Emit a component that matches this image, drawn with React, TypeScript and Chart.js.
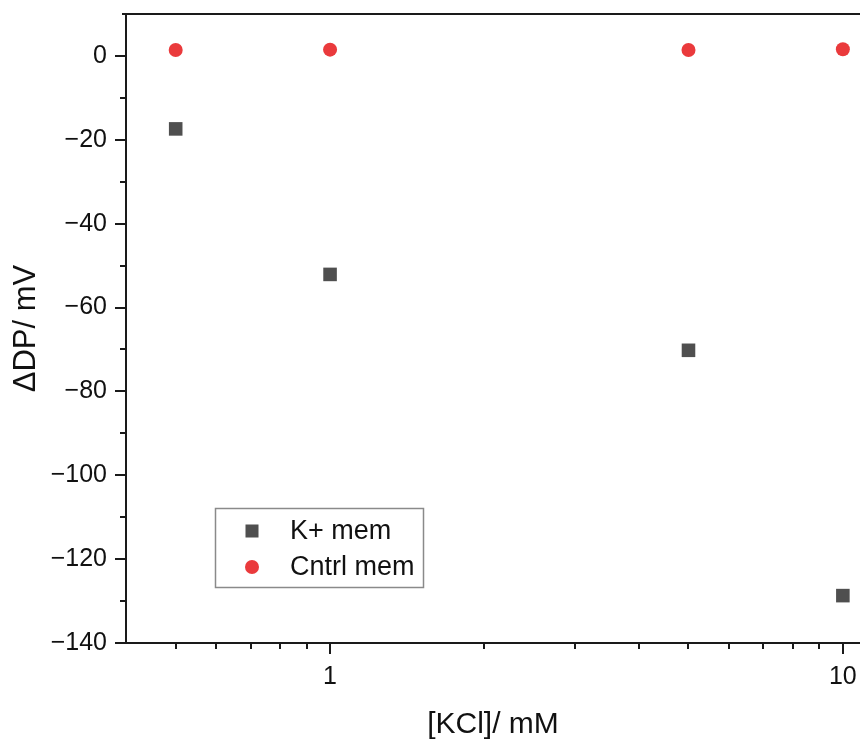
import React, { useEffect, useRef } from "react";
import { Chart, registerables } from "chart.js";

Chart.register(...registerables);

const concentrations = [0.5, 1, 5, 10];
const kMemValues = [-17.4, -52.1, -70.2, -128.7];
const cntrlMemValues = [1.4, 1.5, 1.4, 1.6];

const yMajorTicks = [-140, -120, -100, -80, -60, -40, -20, 0];
const yMinorTicks = [-130, -110, -90, -70, -50, -30, -10];
const xMajorTicks = [1, 10];
const xMinorTicks = [0.5, 0.6, 0.7, 0.8, 0.9, 2, 3, 4, 5, 6, 7, 8, 9];

const seriesNames = ["K+ mem", "Cntrl mem"];
const xTitle = "[KCl]/ mM";
const yTitle = "ΔDP/ mV";

const FONT = "'Liberation Sans', Arial, Helvetica, sans-serif";
const AXIS_COLOR = "#1a1a1a";

const axesPlugin = {
  id: "originAxes",
  afterDatasetsDraw(chart: any) {
    const { ctx, chartArea } = chart;
    const { left, right, top, bottom } = chartArea;
    const xs = chart.scales.x;
    const ys = chart.scales.y;
    ctx.save();
    ctx.strokeStyle = AXIS_COLOR;
    ctx.lineWidth = 2;
    ctx.lineCap = "butt";
    ctx.beginPath();
    ctx.moveTo(left - 4, top);
    ctx.lineTo(right, top);
    ctx.moveTo(left, top - 1);
    ctx.lineTo(left, bottom + 1);
    ctx.moveTo(left - 1, bottom);
    ctx.lineTo(right, bottom);
    ctx.stroke();

    ctx.beginPath();
    yMajorTicks.forEach((v) => {
      const y = Math.round(ys.getPixelForValue(v));
      ctx.moveTo(left - 11, y);
      ctx.lineTo(left, y);
    });
    yMinorTicks.forEach((v) => {
      const y = Math.round(ys.getPixelForValue(v));
      ctx.moveTo(left - 6, y);
      ctx.lineTo(left, y);
    });
    xMajorTicks.forEach((v) => {
      const x = Math.round(xs.getPixelForValue(v));
      ctx.moveTo(x, bottom);
      ctx.lineTo(x, bottom + 11);
    });
    xMinorTicks.forEach((v) => {
      const x = Math.round(xs.getPixelForValue(v));
      ctx.moveTo(x, bottom);
      ctx.lineTo(x, bottom + 6);
    });
    ctx.stroke();
    ctx.restore();
  },
};

const legendPlugin = {
  id: "insideLegend",
  afterDraw(chart: any) {
    const { ctx, chartArea } = chart;
    const bx = chartArea.left + 89;
    const by = chartArea.top + 494;
    const bw = 208;
    const bh = 79;
    ctx.save();
    ctx.fillStyle = "#ffffff";
    ctx.fillRect(bx, by, bw, bh);
    ctx.strokeStyle = "#8a8a8a";
    ctx.lineWidth = 1.5;
    ctx.strokeRect(bx + 0.5, by + 0.5, bw, bh);
    const rows = [by + 23, by + 59];
    chart.data.datasets.forEach((ds: any, i: number) => {
      const mx = bx + 37;
      const my = rows[i];
      ctx.fillStyle = ds.backgroundColor;
      if (ds.pointStyle === "rect") {
        ctx.fillRect(mx - 6.5, my - 6.5, 13, 13);
      } else {
        ctx.beginPath();
        ctx.arc(mx, my, 7, 0, Math.PI * 2);
        ctx.fill();
      }
      ctx.fillStyle = "#111111";
      ctx.font = `27px ${FONT}`;
      ctx.textBaseline = "middle";
      ctx.textAlign = "left";
      ctx.fillText(ds.label, bx + 75, my + 1);
    });
    ctx.restore();
  },
};

export default function App() {
  const canvasRef = useRef<HTMLCanvasElement | null>(null);

  useEffect(() => {
    if (!canvasRef.current) return;
    const chart = new Chart(canvasRef.current, {
      type: "scatter",
      data: {
        datasets: [
          {
            label: seriesNames[0],
            data: concentrations.map((x, i) => ({ x, y: kMemValues[i] })),
            pointStyle: "rect",
            pointRadius: 9.6,
            pointHoverRadius: 9.6,
            backgroundColor: "#4f4f4f",
            borderColor: "#4f4f4f",
            borderWidth: 0,
          },
          {
            label: seriesNames[1],
            data: concentrations.map((x, i) => ({ x, y: cntrlMemValues[i] })),
            pointStyle: "circle",
            pointRadius: 7,
            pointHoverRadius: 7,
            backgroundColor: "#ea3a3c",
            borderColor: "#ea3a3c",
            borderWidth: 0,
          },
        ],
      },
      options: {
        animation: false,
        responsive: false,
        events: [],
        layout: { autoPadding: false, padding: { top: 14, right: 0, left: 0, bottom: 0 } },
        plugins: {
          legend: { display: false },
          tooltip: { enabled: false },
        },
        scales: {
          x: {
            type: "logarithmic",
            min: 0.4,
            max: 10.8,
            border: { display: false },
            grid: { display: false, drawTicks: false },
            afterBuildTicks: (scale: any) => {
              scale.ticks = xMajorTicks.map((v) => ({ value: v }));
            },
            afterFit: (scale: any) => {
              scale.height = 97;
              scale.paddingLeft = 0;
              scale.paddingRight = 0;
            },
            ticks: {
              autoSkip: false,
              maxRotation: 0,
              padding: 19,
              color: "#111111",
              font: { family: FONT, size: 25 },
              callback: (v: any) => String(v),
            },
            title: {
              display: true,
              text: xTitle,
              color: "#111111",
              font: { family: FONT, size: 30, lineHeight: 1.0 },
              padding: { top: 0, bottom: 0 },
            },
          },
          y: {
            type: "linear",
            min: -140,
            max: 10,
            border: { display: false },
            grid: { display: false, drawTicks: false },
            afterBuildTicks: (scale: any) => {
              scale.ticks = yMajorTicks.map((v) => ({ value: v }));
            },
            afterFit: (scale: any) => {
              scale.width = 126;
              scale.paddingTop = 0;
              scale.paddingBottom = 0;
            },
            ticks: {
              autoSkip: false,
              padding: 19,
              color: "#111111",
              font: { family: FONT, size: 25 },
              callback: (v: any) => (Number(v) < 0 ? "\u2212" + Math.abs(Number(v)) : String(v)),
            },
            title: {
              display: true,
              text: yTitle,
              color: "#111111",
              font: { family: FONT, size: 31 },
              padding: { top: 8, bottom: 0 },
            },
          },
        },
      },
      plugins: [axesPlugin, legendPlugin],
    } as any);
    return () => chart.destroy();
  }, []);

  return (
    <canvas
      ref={canvasRef}
      width={860}
      height={740}
      style={{ display: "block", position: "fixed", left: 0, top: 0, background: "#ffffff" }}
    />
  );
}
